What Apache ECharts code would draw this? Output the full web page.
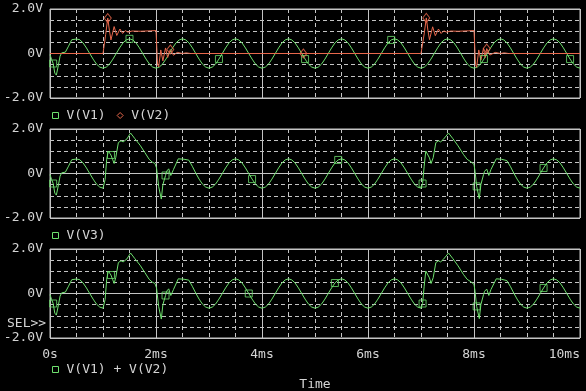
<!DOCTYPE html>
<html>
<head>
<meta charset="utf-8">
<script src="https://cdn.jsdelivr.net/npm/echarts@6/dist/echarts.min.js"></script>
<style>
html,body{margin:0;padding:0;background:#000;}
#chart{width:586px;height:391px;}
</style>
</head>
<body>
<div id="chart"></div>
<script>
// ---- data (time in ms, value in V) ----
const xTickLabels = ['0s', '2ms', '4ms', '6ms', '8ms', '10ms'];
const yTickLabels = ['-2.0V', '0V', '2.0V'];

// V(V1): start-up transient then 1 kHz sine
const v1Points = [
  [0,-0.05],[0.03,-0.27],[0.06,-0.45],[0.09,-0.88],[0.12,-0.97],[0.16,-0.5],[0.19,-0.12],[0.22,0.03],[0.25,-0.03],[0.29,0.06],[0.35,0.33],[0.41,0.62],[0.5,0.65],[0.5625,0.62],[0.625,0.47],[0.6875,0.25],[0.75,0],[0.8125,-0.25],[0.875,-0.47],[0.9375,-0.61],
  [1,-0.66],[1.0625,-0.61],[1.125,-0.47],[1.1875,-0.25],[1.25,0],[1.3125,0.25],[1.375,0.47],[1.4375,0.61],[1.5,0.66],[1.5625,0.61],[1.625,0.47],[1.6875,0.25],[1.75,0],[1.8125,-0.25],[1.875,-0.47],[1.9375,-0.61],
  [2,-0.66],[2.0625,-0.61],[2.125,-0.47],[2.1875,-0.25],[2.25,0],[2.3125,0.25],[2.375,0.47],[2.4375,0.61],[2.5,0.66],[2.5625,0.61],[2.625,0.47],[2.6875,0.25],[2.75,0],[2.8125,-0.25],[2.875,-0.47],[2.9375,-0.61],
  [3,-0.66],[3.0625,-0.61],[3.125,-0.47],[3.1875,-0.25],[3.25,0],[3.3125,0.25],[3.375,0.47],[3.4375,0.61],[3.5,0.66],[3.5625,0.61],[3.625,0.47],[3.6875,0.25],[3.75,0],[3.8125,-0.25],[3.875,-0.47],[3.9375,-0.61],
  [4,-0.66],[4.0625,-0.61],[4.125,-0.47],[4.1875,-0.25],[4.25,0],[4.3125,0.25],[4.375,0.47],[4.4375,0.61],[4.5,0.66],[4.5625,0.61],[4.625,0.47],[4.6875,0.25],[4.75,0],[4.8125,-0.25],[4.875,-0.47],[4.9375,-0.61],
  [5,-0.66],[5.0625,-0.61],[5.125,-0.47],[5.1875,-0.25],[5.25,0],[5.3125,0.25],[5.375,0.47],[5.4375,0.61],[5.5,0.66],[5.5625,0.61],[5.625,0.47],[5.6875,0.25],[5.75,0],[5.8125,-0.25],[5.875,-0.47],[5.9375,-0.61],
  [6,-0.66],[6.0625,-0.61],[6.125,-0.47],[6.1875,-0.25],[6.25,0],[6.3125,0.25],[6.375,0.47],[6.4375,0.61],[6.5,0.66],[6.5625,0.61],[6.625,0.47],[6.6875,0.25],[6.75,0],[6.8125,-0.25],[6.875,-0.47],[6.9375,-0.61],
  [7,-0.66],[7.0625,-0.61],[7.125,-0.47],[7.1875,-0.25],[7.25,0],[7.3125,0.25],[7.375,0.47],[7.4375,0.61],[7.5,0.66],[7.5625,0.61],[7.625,0.47],[7.6875,0.25],[7.75,0],[7.8125,-0.25],[7.875,-0.47],[7.9375,-0.61],
  [8,-0.66],[8.0625,-0.61],[8.125,-0.47],[8.1875,-0.25],[8.25,0],[8.3125,0.25],[8.375,0.47],[8.4375,0.61],[8.5,0.66],[8.5625,0.61],[8.625,0.47],[8.6875,0.25],[8.75,0],[8.8125,-0.25],[8.875,-0.47],[8.9375,-0.61],
  [9,-0.66],[9.0625,-0.61],[9.125,-0.47],[9.1875,-0.25],[9.25,0],[9.3125,0.25],[9.375,0.47],[9.4375,0.61],[9.5,0.66],[9.5625,0.61],[9.625,0.47],[9.6875,0.25],[9.75,0],[9.8125,-0.25],[9.875,-0.47],[9.9375,-0.61],
  [10,-0.66]
];

// V(V2): two ringing pulses, zero elsewhere
const v2Points = [
  [0,0],[1,0],[1.02,0.02],[1.05,0.85],[1.09,1.59],[1.12,1.05],[1.15,0.61],[1.21,1.21],[1.26,0.81],[1.32,1.1],[1.37,0.9],[1.42,1.03],[1.47,0.96],[1.55,1.01],[1.7,1.0],[1.9,1.02],[2,1.03],
  [2.03,-0.5],[2.05,-0.6],[2.09,0.16],[2.13,-0.33],[2.18,0.25],[2.22,-0.18],[2.27,0.18],[2.33,-0.08],[2.4,0.05],[2.5,0],[2.57,0.03],[2.65,0],[3.5,0],[4.78,0],[6,0],
  [7,0],[7.03,0.03],[7.06,0.88],[7.1,1.6],[7.13,1.05],[7.16,0.62],[7.22,1.2],[7.27,0.8],[7.33,1.1],[7.38,0.9],[7.43,1.02],[7.48,0.96],[7.56,1.01],[7.7,1.0],[7.9,1.02],[8,1.03],
  [8.03,-0.5],[8.05,-0.62],[8.09,0.16],[8.13,-0.3],[8.18,0.24],[8.21,-0.18],[8.24,0.22],[8.3,-0.07],[8.4,0.05],[8.5,0],[8.57,0.03],[8.65,0],[10,0]
];

// V(V3) (= V(V1) + V(V2), shown in the 2nd and 3rd panels)
const v3Points = [
  [0,-0.05],[0.03,-0.27],[0.06,-0.45],[0.09,-0.88],[0.12,-0.97],[0.16,-0.5],[0.19,-0.12],[0.22,0.03],[0.25,-0.03],[0.29,0.06],[0.35,0.33],[0.41,0.62],[0.5,0.65],[0.5625,0.62],[0.625,0.47],[0.6875,0.25],[0.75,0],[0.8125,-0.25],[0.875,-0.47],[0.9375,-0.61],
  [1,-0.66],[1.02,-0.65],[1.04,-0.27],[1.07,0.64],[1.1,1.01],[1.15,0.83],[1.18,0.64],[1.21,0.45],[1.24,0.71],[1.29,1.39],[1.34,1.47],[1.38,1.42],[1.45,1.55],[1.52,1.82],[1.6,1.57],[1.7,1.27],[1.79,0.94],[1.87,0.64],[1.93,0.51],[1.98,0.45],
  [2.01,0.25],[2.05,-0.58],[2.1,-1.15],[2.13,-0.5],[2.18,-0.09],[2.2,0.1],[2.24,0.21],[2.28,-0.09],[2.33,0.18],[2.42,0.66],[2.53,0.64],[2.62,0.6],[2.69,0.3],[2.75,0.02],[2.8125,-0.25],[2.875,-0.47],[2.9375,-0.61],
  [3,-0.66],[3.0625,-0.61],[3.125,-0.47],[3.1875,-0.25],[3.25,0],[3.3125,0.25],[3.375,0.47],[3.4375,0.61],[3.5,0.66],[3.5625,0.61],[3.625,0.47],[3.6875,0.25],[3.75,0],[3.8125,-0.25],[3.875,-0.47],[3.9375,-0.61],
  [4,-0.66],[4.0625,-0.61],[4.125,-0.47],[4.1875,-0.25],[4.25,0],[4.3125,0.25],[4.375,0.47],[4.4375,0.61],[4.5,0.66],[4.5625,0.61],[4.625,0.47],[4.6875,0.25],[4.75,0],[4.8125,-0.25],[4.875,-0.47],[4.9375,-0.61],
  [5,-0.66],[5.0625,-0.61],[5.125,-0.47],[5.1875,-0.25],[5.25,0],[5.3125,0.25],[5.375,0.47],[5.4375,0.61],[5.5,0.66],[5.5625,0.61],[5.625,0.47],[5.6875,0.25],[5.75,0],[5.8125,-0.25],[5.875,-0.47],[5.9375,-0.61],
  [6,-0.66],[6.0625,-0.61],[6.125,-0.47],[6.1875,-0.25],[6.25,0],[6.3125,0.25],[6.375,0.47],[6.4375,0.61],[6.5,0.66],[6.5625,0.61],[6.625,0.47],[6.6875,0.25],[6.75,0],[6.8125,-0.25],[6.875,-0.47],[6.9375,-0.61],
  [7,-0.66],[7.03,-0.45],[7.06,0.33],[7.09,1.01],[7.12,1.05],[7.16,0.7],[7.19,0.45],[7.23,0.71],[7.28,1.39],[7.33,1.47],[7.37,1.42],[7.42,1.53],[7.52,1.82],[7.6,1.57],[7.7,1.24],[7.8,0.86],[7.87,0.64],[7.95,0.51],
  [8,0.41],[8.02,0.1],[8.05,-0.58],[8.1,-1.13],[8.13,-0.5],[8.18,-0.05],[8.2,0.1],[8.24,0.2],[8.28,-0.09],[8.32,0.18],[8.42,0.66],[8.52,0.64],[8.62,0.58],[8.69,0.3],[8.75,0.02],[8.8125,-0.25],[8.875,-0.47],[8.9375,-0.61],
  [9,-0.66],[9.0625,-0.61],[9.125,-0.47],[9.1875,-0.25],[9.25,0],[9.3125,0.25],[9.375,0.47],[9.4375,0.61],[9.5,0.66],[9.5625,0.61],[9.625,0.47],[9.6875,0.25],[9.75,0],[9.8125,-0.25],[9.875,-0.47],[9.9375,-0.61],
  [10,-0.66]
];

// times (ms) where the trace marker symbols sit
const v1MarkerTimes = [0.06, 1.5, 3.16, 4.82, 6.46, 8.16, 9.84];
const v2MarkerTimes = [1.09, 2.27, 4.78, 7.1, 8.24];
const v3MarkerTimes = [0.06, 1.15, 2.18, 3.8, 5.42, 7.03, 8.05, 9.31];
const sumMarkerTimes = [0.06, 1.15, 2.18, 3.75, 5.375, 7.03, 8.05, 9.31];

// ---- styling ----
const GREEN = '#6ee06e';
const RED = '#e8684c';
const GRID_C = '#c4c4c4';
const TEXT_C = '#d4d4d4';
const FONT = "'DejaVu Sans Mono', monospace";

function nearest(points, t) {
  let best = points[0];
  for (const p of points) if (Math.abs(p[0] - t) < Math.abs(best[0] - t)) best = p;
  return best;
}

const gridTops = [9, 129, 249];
const grids = gridTops.map(t => ({
  left: 50, top: t, width: 530, height: 89,
  containLabel: false, outerBoundsMode: 'none',
  show: true, borderColor: GRID_C, borderWidth: 1, backgroundColor: 'transparent'
}));

const xAxes = [], yAxes = [];
gridTops.forEach((t, i) => {
  const last = i === 2;
  xAxes.push({
    type: 'value', gridIndex: i, position: 'bottom', min: 0, max: 10, interval: 0.5,
    axisLine: { show: false }, axisTick: { show: false }, axisLabel: { show: false },
    splitLine: { show: true, lineStyle: { color: GRID_C, width: 1, type: [4, 3] } }
  });
  xAxes.push({
    type: 'value', gridIndex: i, position: 'bottom', offset: 0, min: 0, max: 10, interval: 2,
    axisLine: { show: false },
    axisTick: { show: last, length: 4, lineStyle: { color: GRID_C } },
    axisLabel: {
      show: last, color: TEXT_C, fontFamily: FONT, fontSize: 13, margin: 10,
      alignMaxLabel: 'right',
      formatter: v => xTickLabels[Math.round(v / 2)]
    },
    splitLine: { show: true, lineStyle: { color: GRID_C, width: 1, type: 'solid' } },
    name: last ? 'Time' : '', nameLocation: 'middle', nameGap: 40,
    nameTextStyle: { color: TEXT_C, fontFamily: FONT, fontSize: 13 }
  });
  yAxes.push({
    type: 'value', gridIndex: i, position: 'left', min: -2, max: 2, interval: 0.5,
    axisLine: { show: false }, axisTick: { show: false }, axisLabel: { show: false },
    splitLine: { show: true, lineStyle: { color: GRID_C, width: 1, type: [4, 3] } }
  });
  yAxes.push({
    type: 'value', gridIndex: i, position: 'left', offset: 0, min: -2, max: 2, interval: 2,
    axisLine: { show: false }, axisTick: { show: false },
    axisLabel: {
      show: true, color: TEXT_C, fontFamily: FONT, fontSize: 13, margin: 7,
      formatter: v => yTickLabels[Math.round(v / 2) + 1]
    },
    splitLine: { show: true, lineStyle: { color: GRID_C, width: 1, type: 'solid' } }
  });
});

function lineSeries(name, pts, color, i) {
  return {
    type: 'line', name, data: pts, xAxisIndex: i * 2 + 1, yAxisIndex: i * 2 + 1,
    showSymbol: false, symbol: 'none', smooth: false, clip: true,
    lineStyle: { color, width: 1 }, itemStyle: { color }, silent: true
  };
}
function markerSeries(name, pts, times, color, symbol, size, i) {
  return {
    type: 'scatter', name, xAxisIndex: i * 2 + 1, yAxisIndex: i * 2 + 1,
    data: times.map(t => nearest(pts, t)), symbol, symbolSize: size, silent: true,
    itemStyle: { color: 'rgba(0,0,0,0)', borderColor: color, borderWidth: 1 }, z: 5
  };
}

const legendBase = {
  orient: 'horizontal', left: 52, padding: 0, itemWidth: 6, itemHeight: 6, itemGap: 11,
  selectedMode: false,
  textStyle: { color: TEXT_C, fontFamily: FONT, fontSize: 13, padding: [0, 0, 0, 3] }
};
const sq = { color: 'rgba(0,0,0,0)', borderColor: GREEN, borderWidth: 1 };
const dm = { color: 'rgba(0,0,0,0)', borderColor: RED, borderWidth: 1 };

const option = {
  backgroundColor: '#000',
  animation: false,
  grid: grids,
  xAxis: xAxes,
  yAxis: yAxes,
  legend: [
    Object.assign({}, legendBase, { top: 109, data: [
      { name: 'V(V1)', icon: 'rect', itemStyle: sq },
      { name: 'V(V2)', icon: 'diamond', itemStyle: dm }
    ] }),
    Object.assign({}, legendBase, { top: 229, data: [
      { name: 'V(V3)', icon: 'rect', itemStyle: sq }
    ] }),
    Object.assign({}, legendBase, { top: 363, data: [
      { name: 'V(V1) + V(V2)', icon: 'rect', itemStyle: sq }
    ] })
  ],
  graphic: [
    { type: 'text', left: 7, top: 317, style: { text: 'SEL>>', fill: TEXT_C, font: "13px 'DejaVu Sans Mono', monospace" } }
  ],
  series: [
    lineSeries('V(V1)', v1Points, GREEN, 0),
    markerSeries('V(V1)', v1Points, v1MarkerTimes, GREEN, 'rect', 7, 0),
    lineSeries('V(V2)', v2Points, RED, 0),
    markerSeries('V(V2)', v2Points, v2MarkerTimes, RED, 'diamond', [7, 9], 0),
    lineSeries('V(V3)', v3Points, GREEN, 1),
    markerSeries('V(V3)', v3Points, v3MarkerTimes, GREEN, 'rect', 7, 1),
    lineSeries('V(V1) + V(V2)', v3Points, GREEN, 2),
    markerSeries('V(V1) + V(V2)', v3Points, sumMarkerTimes, GREEN, 'rect', 7, 2)
  ]
};

const chart = echarts.init(document.getElementById('chart'), null, { renderer: 'canvas' });
chart.setOption(option);
</script>
</body>
</html>
